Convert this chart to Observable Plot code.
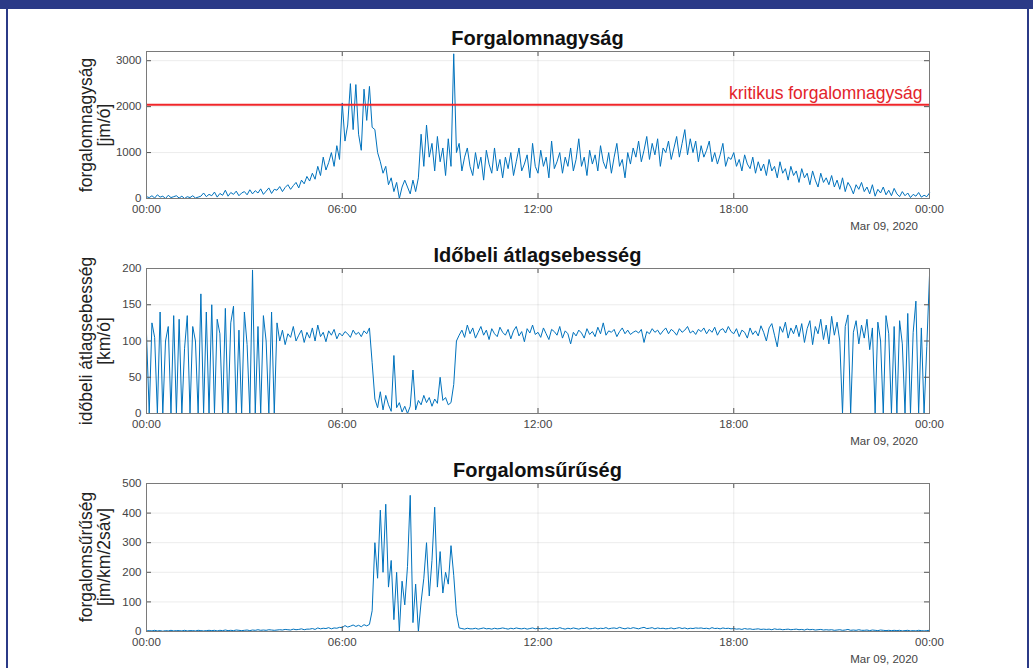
<!DOCTYPE html>
<html>
<head>
<meta charset="utf-8">
<script src="https://cdn.jsdelivr.net/npm/d3@7"></script>
<script src="https://cdn.jsdelivr.net/npm/@observablehq/plot@0.6"></script>
<style>
  html, body { margin: 0; padding: 0; background: #fff; }
  #wrap { position: relative; width: 1033px; height: 668px; overflow: hidden; background: #fff;
          font-family: "Liberation Sans", Arial, Helvetica, sans-serif; }
  .band { position: absolute; background: #2b3a87; }
  .title { position: absolute; left: 146px; width: 783px; text-align: center; font-weight: bold;
           font-size: 20px; color: #111; line-height: 22px; z-index: 2; }
  .ylab { position: absolute; width: 240px; text-align: center; font-size: 17.5px; line-height: 18px;
          color: #222; transform: translate(-50%, -50%) rotate(-90deg); z-index: 2; white-space: nowrap; }
  .date { position: absolute; right: 115px; font-size: 11.5px; color: #444; z-index: 2; }
  .panel { position: absolute; left: 0; z-index: 1; }
</style>
</head>
<body>
<div id="wrap">
  <div class="band" style="left:0;top:0;width:1033px;height:9px"></div>
  <div class="band" style="left:6px;top:0;width:2px;height:668px"></div>
  <div class="band" style="left:1027px;top:0;width:2px;height:668px"></div>
</div>
<script>
// ---- data (5-minute samples, 00:00 .. 24:00) ----
const dayLabel = "Mar 09, 2020";
const titles = ["Forgalomnagyság", "Időbeli átlagsebesség", "Forgalomsűrűség"];
const yLabels = [["forgalomnagyság", "[jm/ó]"], ["időbeli átlagsebesség", "[km/ó]"], ["forgalomsűrűség", "[jm/km/2sáv]"]];
const criticalFlow = 2040;
const criticalLabel = "kritikus forgalomnagyság";
const xTickLabels = ["00:00", "06:00", "12:00", "18:00", "00:00"];
const flowTicks = [0, 1000, 2000, 3000];
const speedTicks = [0, 50, 100, 150, 200];
const densityTicks = [0, 100, 200, 300, 400, 500];

const flow = [
  40, 20, 60, 10, 80, 30, 50, 0, 70, 20, 40, 60,
  10, 50, 0, 40, 20, 60, 10, 30, 50, 120, 40, 90,
  60, 140, 30, 110, 70, 180, 50, 130, 90, 160, 60, 120,
  150, 80, 190, 100, 170, 120, 210, 90, 160, 230, 110, 200,
  180, 260, 150, 240, 300, 200, 280, 350, 230, 400, 320, 480,
  380, 550, 420, 700, 500, 900, 620, 780, 1000, 700, 1150, 850,
  2080, 1250, 1600, 2500, 1500, 2480, 1400, 1050, 2380, 1700, 2440, 1550,
  1500, 1000, 800, 550, 700, 300, 450, 150, 350, 0, 250, 400,
  250, 100, 400, 150, 450, 1400, 700, 1600, 900, 1200, 600, 1350,
  800, 1100, 500, 1300, 700, 3150, 1000, 1200, 600, 900, 1100, 700,
  500, 1000, 650, 900, 400, 1050, 750, 550, 1100, 600, 850, 450,
  900, 650, 1000, 500, 800, 1100, 600, 750, 950, 450, 1200, 700,
  550, 1050, 700, 900, 450, 1250, 650, 800, 1000, 550, 900, 700,
  1100, 600, 850, 1300, 700, 900, 500, 1050, 750, 950, 600, 1150,
  800, 650, 1000, 550, 900, 1200, 700, 850, 450, 1000, 750, 1100,
  900, 1250, 800, 1050, 1350, 850, 1200, 950, 1300, 700, 1100, 1000,
  1250, 850, 1100, 1350, 900, 1200, 1500, 950, 1300, 1000, 1250, 800,
  1150, 900, 1050, 1250, 800, 1000, 750, 950, 1200, 700, 900, 850,
  1000, 700, 850, 600, 950, 750, 650, 900, 550, 800, 600, 750,
  500, 850, 600, 700, 450, 800, 550, 650, 400, 700, 500, 600,
  350, 650, 450, 550, 300, 600, 400, 250, 550, 350, 450, 300,
  500, 250, 400, 200, 450, 150, 350, 250, 100, 300, 200, 350,
  150, 250, 100, 300, 50, 200, 120, 250, 80, 180, 60, 220,
  100, 40, 150, 60, 120, 20, 90, 50, 130, 30, 70, 40,
  120
];

const speed = [
  110, 0, 125, 105, 0, 140, 0, 100, 120, 0, 135, 0,
  130, 0, 90, 135, 0, 120, 100, 0, 165, 0, 140, 0,
  150, 0, 130, 110, 0, 145, 0, 125, 148, 0, 115, 0,
  140, 95, 0, 198, 0, 120, 0, 135, 100, 0, 140, 0,
  125, 100, 115, 95, 110, 105, 120, 100, 108, 115, 98, 112,
  104, 118, 100, 122, 106, 112, 99, 114, 108, 116, 103, 111,
  107, 113, 110, 105, 115, 109, 112, 106, 114, 110, 118, 70,
  20, 8, 30, 5, 25, 12, 3, 80, 8, 15, 2, 10,
  0, 10, 60, 5, 18, 12, 25, 15, 22, 10, 20, 14,
  50, 18, 22, 12, 15, 40, 100, 108, 115, 105, 122, 110,
  118, 104, 112, 120, 108, 115, 102, 117, 110, 106, 119, 112,
  108, 116, 103, 114, 120, 107, 113, 99, 117, 111, 122, 109,
  112, 105, 118, 110, 102, 116, 113, 108, 120, 104, 114, 110,
  96, 112, 107, 115, 111, 104, 117, 109, 113, 106, 119, 110,
  125, 108, 114, 112, 116, 106, 113, 118, 110, 115, 109, 112,
  114, 111, 116, 98, 113, 110, 117, 112, 115, 109, 114, 118,
  110, 116, 113, 108, 117, 112, 115, 120, 111, 114, 109, 116,
  113, 118, 110, 116, 112, 119, 108, 115, 117, 111, 120, 113,
  110, 117, 106, 115, 112, 104, 118, 109, 114, 107, 121, 112,
  100, 118, 124, 108, 92, 120, 112, 126, 104, 118, 110, 122,
  106, 124, 98, 117, 128, 95, 120, 110, 130, 102, 122, 96,
  134, 108, 126, 100, 0, 120, 136, 0, 112, 128, 96, 122,
  104, 130, 88, 118, 0, 126, 100, 0, 135, 110, 0, 120,
  0, 128, 96, 0, 138, 0, 112, 155, 0, 118, 0, 92,
  190
];

const density = [
  2, 3, 2, 4, 2, 3, 1, 3, 2, 4, 2, 3,
  3, 2, 4, 2, 3, 3, 2, 4, 3, 2, 3, 4,
  3, 4, 2, 4, 3, 5, 3, 4, 3, 5, 4, 3,
  4, 5, 3, 5, 4, 6, 4, 5, 4, 6, 5, 4,
  5, 6, 5, 7, 6, 5, 8, 6, 7, 9, 6, 8,
  8, 10, 7, 12, 9, 11, 10, 13, 9, 12, 11, 14,
  13, 20, 15, 18, 22, 17, 21, 16, 23, 19, 24, 70,
  300, 180, 410, 200, 430, 150, 240, 40, 200, 0, 170, 90,
  220, 460, 30, 160, 0, 100, 180, 300, 120, 240, 420, 150,
  270, 130, 200, 160, 290, 190, 60, 12, 10, 8, 11, 9,
  9, 11, 8, 10, 12, 9, 10, 8, 11, 9, 10, 12,
  10, 8, 11, 9, 12, 10, 9, 11, 8, 10, 12, 9,
  11, 9, 10, 12, 8, 10, 11, 9, 13, 10, 8, 11,
  9, 12, 10, 8, 11, 10, 13, 9, 10, 12, 9, 11,
  10, 13, 9, 11, 12, 10, 14, 11, 9, 12, 10, 13,
  11, 9, 12, 14, 10, 11, 13, 9, 12, 10, 11, 9,
  10, 12, 9, 11, 13, 10, 12, 9, 11, 10, 12, 11,
  12, 10, 11, 9, 13, 10, 11, 9, 12, 10, 11, 9,
  10, 8, 9, 7, 10, 8, 9, 7, 8, 9, 7, 8,
  7, 8, 6, 9, 7, 8, 6, 7, 8, 6, 7, 8,
  6, 7, 5, 8, 6, 7, 5, 6, 7, 5, 6, 5,
  6, 4, 5, 6, 4, 5, 7, 4, 5, 4, 6, 4,
  4, 5, 3, 5, 4, 3, 5, 4, 3, 4, 3, 4,
  3, 4, 2, 3, 4, 2, 3, 2, 4, 3, 2, 3,
  4
];

// ---- drawing ----
const dayStart = Date.UTC(2020, 2, 9);
const times = flow.map((_, i) => new Date(dayStart + i * 5 * 60000));
const xTicks = xTickLabels.map((_, i) => new Date(dayStart + i * 6 * 3600000));
const wrap = document.getElementById("wrap");
const LINE = "#0072BD";
const PW = 783;

function panel({values, yDomain, yTicks, svgTop, plotH, idx, extra = []}) {
  const data = values.map((v, i) => ({t: times[i], v}));
  const mt = 10, mb = 30;
  const chart = Plot.plot({
    width: 1033,
    height: mt + plotH + mb,
    marginLeft: 146, marginRight: 104, marginTop: mt, marginBottom: mb,
    style: {fontFamily: '"Liberation Sans", Arial, sans-serif', fontSize: "11.5px", color: "#444", background: "transparent", overflow: "visible"},
    x: {type: "utc", domain: [times[0], times[times.length - 1]], ticks: xTicks,
        tickFormat: (d, i) => xTickLabels[i], grid: true, label: null, tickSize: 0, tickPadding: 6},
    y: {domain: yDomain, ticks: yTicks, tickFormat: d => String(d), grid: true, label: null, tickSize: 0, tickPadding: 5},
    marks: [
      Plot.line(data, {x: "t", y: "v", stroke: LINE, strokeWidth: 1}),
      ...extra,
      Plot.tickX(xTicks, {x: d => d, insetTop: plotH - 5, stroke: "#555", strokeWidth: 1}),
      Plot.tickX(xTicks, {x: d => d, insetBottom: plotH - 5, stroke: "#555", strokeWidth: 1}),
      Plot.tickY(yTicks, {y: d => d, insetRight: PW - 5, stroke: "#555", strokeWidth: 1}),
      Plot.tickY(yTicks, {y: d => d, insetLeft: PW - 5, stroke: "#555", strokeWidth: 1}),
      Plot.frame({stroke: "#7a7a7a", strokeWidth: 1})
    ]
  });
  chart.classList.add("panel");
  chart.style.top = svgTop + "px";
  wrap.appendChild(chart);

  const plotTop = svgTop + mt;
  const t = document.createElement("div");
  t.className = "title";
  t.style.top = (plotTop - 24) + "px";
  t.textContent = titles[idx];
  wrap.appendChild(t);

  const cy = plotTop + plotH / 2;
  yLabels[idx].forEach((txt, j) => {
    const l = document.createElement("div");
    l.className = "ylab";
    l.style.left = (86 + j * 18) + "px";
    l.style.top = cy + "px";
    l.textContent = txt;
    wrap.appendChild(l);
  });

  const d = document.createElement("div");
  d.className = "date";
  d.style.top = (plotTop + plotH + 22) + "px";
  d.textContent = dayLabel;
  wrap.appendChild(d);
}

panel({values: flow, yDomain: [0, 3200], yTicks: flowTicks, svgTop: 41, plotH: 147, idx: 0,
  extra: [
    Plot.ruleY([criticalFlow], {stroke: "#f0262a", strokeWidth: 2}),
    Plot.text([criticalLabel], {frameAnchor: "right", y: () => criticalFlow, text: d => d, dx: -7, dy: -11,
      textAnchor: "end", fill: "#e3242b", fontSize: 17.5})
  ]});
panel({values: speed, yDomain: [0, 200], yTicks: speedTicks, svgTop: 258, plotH: 145, idx: 1});
panel({values: density, yDomain: [0, 500], yTicks: densityTicks, svgTop: 473, plotH: 148, idx: 2});
</script>
</body>
</html>
